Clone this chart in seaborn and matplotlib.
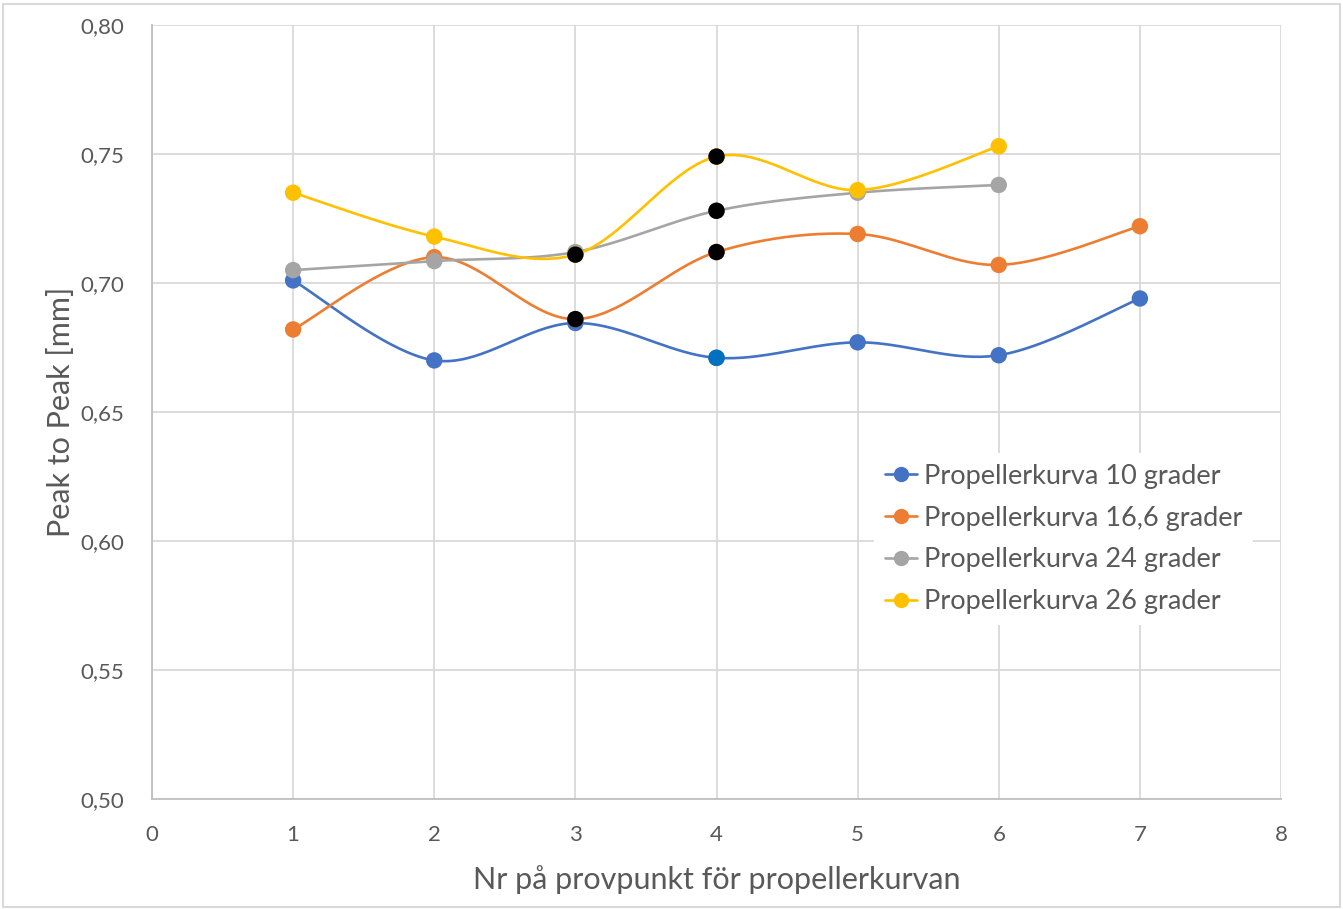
import numpy as np
import pandas as pd
import matplotlib
matplotlib.use("Agg")
import matplotlib.pyplot as plt
import seaborn as sns
from matplotlib.lines import Line2D
from matplotlib.ticker import FuncFormatter, MultipleLocator

# ---- data ----
series_names = ["Propellerkurva 10 grader", "Propellerkurva 16,6 grader",
                "Propellerkurva 24 grader", "Propellerkurva 26 grader"]
x_10 = [1, 2, 3, 4, 5, 6, 7]
y_10 = [0.701, 0.670, 0.6845, 0.671, 0.677, 0.672, 0.694]
x_166 = [1, 2, 3, 4, 5, 6, 7]
y_166 = [0.682, 0.710, 0.686, 0.712, 0.719, 0.707, 0.722]
x_24 = [1, 2, 3, 4, 5, 6]
y_24 = [0.705, 0.7085, 0.712, 0.728, 0.735, 0.738]
x_26 = [1, 2, 3, 4, 5, 6]
y_26 = [0.735, 0.718, 0.711, 0.749, 0.736, 0.753]
# highlighted (black) points: (series index, x)
highlight = [(1, 3), (1, 4), (2, 4), (3, 3), (3, 4)]
special_blue = [(0, 4)]

colors = ["#4472C4", "#ED7D31", "#A5A5A5", "#FFC000"]
xs = [x_10, x_166, x_24, x_26]
ys = [y_10, y_166, y_24, y_26]


def excel_smooth(x, y, n=40):
    p = np.column_stack([x, y]).astype(float)
    pts = np.vstack([p[0], p, p[-1]])
    out = []
    for i in range(1, len(pts) - 2):
        p0, p1, p2, p3 = pts[i - 1], pts[i], pts[i + 1], pts[i + 2]
        c1 = p1 + (p2 - p0) / 6.0
        c2 = p2 - (p3 - p1) / 6.0
        t = np.linspace(0, 1, n)[:, None]
        seg = ((1 - t) ** 3) * p1 + 3 * ((1 - t) ** 2) * t * c1 + 3 * (1 - t) * t ** 2 * c2 + t ** 3 * p2
        out.append(seg if i == 1 else seg[1:])
    s = np.vstack(out)
    return s[:, 0], s[:, 1]


sns.set_theme(style="white")
plt.rcParams["font.family"] = ["Lato", "DejaVu Sans"]
text_color = "#595959"

fig = plt.figure(figsize=(13.43, 9.09), dpi=100)
ax = fig.add_axes([152 / 1343, 1 - 799 / 909, (1281 - 152) / 1343, (799 - 25) / 909])

msize = 140
for i in range(4):
    sx, sy = excel_smooth(xs[i], ys[i])
    df_line = pd.DataFrame({"x": sx, "y": sy})
    sns.lineplot(data=df_line, x="x", y="y", ax=ax, color=colors[i], linewidth=1.9,
                 sort=False, estimator=None, zorder=3 + 2 * i)
    df_pts = pd.DataFrame({"x": xs[i], "y": ys[i]})
    sns.scatterplot(data=df_pts, x="x", y="y", ax=ax, color=colors[i], s=msize,
                    edgecolor="none", linewidth=0, zorder=4 + 2 * i)

for (si, xv) in special_blue:
    yv = ys[si][xs[si].index(xv)]
    sns.scatterplot(x=[xv], y=[yv], ax=ax, color="#0070C0", s=msize, edgecolor="none", zorder=20)
for (si, xv) in highlight:
    yv = ys[si][xs[si].index(xv)]
    sns.scatterplot(x=[xv], y=[yv], ax=ax, color="black", s=msize, edgecolor="none", zorder=20)

ax.set_xlim(0, 8)
ax.set_ylim(0.50, 0.80)
ax.xaxis.set_major_locator(MultipleLocator(1))
ax.yaxis.set_major_locator(MultipleLocator(0.05))
ax.yaxis.set_major_formatter(FuncFormatter(lambda v, p: f"{v:.2f}".replace(".", ",")))
ax.xaxis.set_major_formatter(FuncFormatter(lambda v, p: f"{int(round(v))}"))
ax.grid(True, color="#D9D9D9", linewidth=1.3)
ax.set_axisbelow(True)
for s in ["top", "right"]:
    ax.spines[s].set_visible(False)
for s in ["left", "bottom"]:
    ax.spines[s].set_color("#BFBFBF")
    ax.spines[s].set_linewidth(1.3)
ax.tick_params(axis="both", length=0, labelsize=16, labelcolor=text_color)
ax.tick_params(axis="y", pad=20)
ax.tick_params(axis="x", pad=19)
ax.set_xlabel("Nr på provpunkt för propellerkurvan", fontsize=22, color=text_color, labelpad=14)
ax.set_ylabel("Peak to Peak [mm]", fontsize=22, color=text_color, labelpad=4)

handles = [Line2D([0], [0], color=c, linewidth=1.9, marker="o", markersize=10) for c in colors]
leg = ax.legend(handles, series_names, loc="upper left", bbox_to_anchor=(0.6395, 0.447),
                frameon=True, fontsize=19.5, handlelength=1.2, handletextpad=0.25,
                labelspacing=0.62, borderpad=0.4, borderaxespad=0)
leg.get_frame().set_facecolor("white")
leg.get_frame().set_edgecolor("none")
leg.get_frame().set_alpha(1)
for t in leg.get_texts():
    t.set_color(text_color)
leg.set_zorder(30)

fig.patches.append(plt.Rectangle((0.002, 0.002), 0.996, 0.994, transform=fig.transFigure,
                                 fill=False, edgecolor="#D9D9D9", linewidth=1.5))

fig.savefig("out.png", dpi=100, facecolor="white")
